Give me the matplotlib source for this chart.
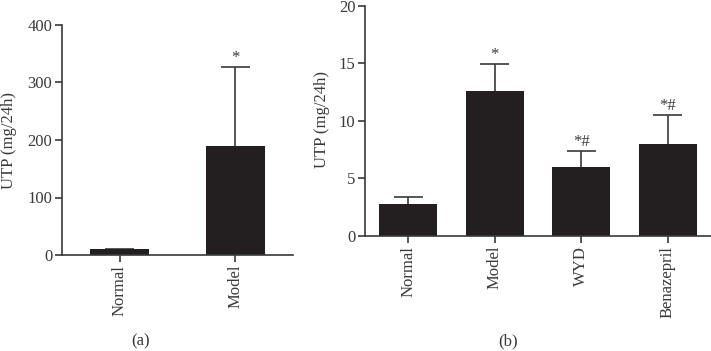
import matplotlib
matplotlib.use("Agg")
import matplotlib.pyplot as plt

plt.rcParams['font.family'] = ['Liberation Serif', 'DejaVu Serif']

cats_a = ["Normal", "Model"]
vals_a = [10, 190]
err_a = [1, 137]
sig_a = ["", "*"]

cats_b = ["Normal", "Model", "WYD", "Benazepril"]
vals_b = [2.78, 12.55, 5.97, 8.0]
err_b = [0.64, 2.41, 1.42, 2.52]
sig_b = ["", "*", "*#", "*#"]

ylabel = "UTP (mg/24h)"
barc = "#231f20"
axc = "#3a3a3a"
fs = 12

fig = plt.figure(figsize=(7.11, 3.51), dpi=100)
axa = fig.add_axes([62/711, 1-255/351, (293-62)/711, (255-25)/351])
axb = fig.add_axes([365/711, 1-236/351, (711-365)/711, (236-5.7)/351])

def draw(ax, cats, vals, err, sig, ymax, step, width, capw, sigoff):
    x = list(range(len(cats)))
    ax.bar(x, vals, width=width, color=barc, linewidth=0, zorder=2)
    tops = [v + e for v, e in zip(vals, err)]
    ax.vlines(x, vals, tops, color=axc, linewidth=1.2, zorder=1)
    ax.hlines(tops, [xi - capw for xi in x], [xi + capw for xi in x],
              color=axc, linewidth=1.2, zorder=1)
    for xi, t, s in zip(x, tops, sig):
        if s:
            ax.text(xi, t + sigoff, s, ha='center', va='bottom', fontsize=fs, color=axc)
    ax.set_xlim(-0.5, len(cats) - 0.5)
    ax.set_ylim(0, ymax)
    ax.set_yticks(range(0, ymax + 1, step))
    ax.set_xticks(x)
    ax.set_xticklabels(cats, rotation=90, fontsize=fs, color=axc)
    for lbl in ax.get_yticklabels():
        lbl.set_fontsize(fs)
        lbl.set_color(axc)
    for sp in ['top', 'right']:
        ax.spines[sp].set_visible(False)
    for sp in ['left', 'bottom']:
        ax.spines[sp].set_color(axc)
        ax.spines[sp].set_linewidth(1.2)
    ax.tick_params(direction='out', length=5, width=1.2, color=axc, pad=2)

draw(axa, cats_a, vals_a, err_a, sig_a, 400, 100, 0.51, 0.125, 2)
draw(axb, cats_b, vals_b, err_b, sig_b, 20, 5, 0.67, 0.17, 0.1)

fig.text(9/711, 1-140/351, ylabel, rotation=90, ha='center', va='center', fontsize=fs, color=axc)
fig.text(322/711, 1-120/351, ylabel, rotation=90, ha='center', va='center', fontsize=fs, color=axc)

fig.text(141/711, 1-341/351, "(a)", ha='center', va='center', fontsize=fs, color=axc)
fig.text(508/711, 1-341/351, "(b)", ha='center', va='center', fontsize=fs, color=axc)

fig.savefig("out.png", dpi=100)
